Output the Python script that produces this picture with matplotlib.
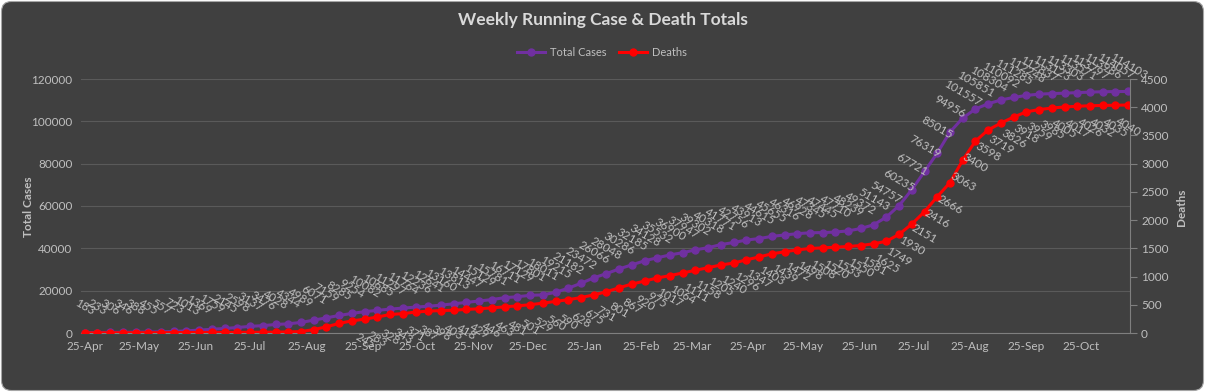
import matplotlib
matplotlib.use("Agg")
import matplotlib.pyplot as plt
import matplotlib.dates as mdates
from matplotlib.patches import FancyBboxPatch
from matplotlib.transforms import IdentityTransform
from matplotlib.ticker import FuncFormatter
import pandas as pd

# weekly snapshots, first one on 25 Apr 2020
weeks = pd.date_range("2020-04-25", periods=83, freq="7D")

cases = [183, 233, 306, 346, 388, 455, 557, 723, 1013, 1369,
         1759, 2145, 2598, 3137, 3476, 4028, 4344, 4989, 6071, 7159,
         8285, 9254, 10082, 10685, 11297, 11764, 12236, 12641, 13160, 13813,
         14447, 15129, 15781, 16711, 17129, 17801, 18011, 19215, 21182, 23472,
         26066, 28048, 30286, 32185, 34128, 35532, 36900, 37947, 39302, 40318,
         41771, 42756, 43913, 44615, 45655, 46316, 46928, 47345, 47445, 47710,
         48239, 49372, 51143, 54757, 60235, 67721, 76319, 85015, 94956, 101557,
         105851, 108304, 110092, 111285, 112248, 112837, 113123, 113303, 113571, 113797,
         113986, 114057, 114103]

deaths = [2, 3, 4, 4, 5, 5, 6, 7, 8, 9,
          10, 11, 12, 13, 14, 16, 20, 25, 60, 110,
          170, 215, 245, 283, 328, 343, 371, 387, 398, 403,
          418, 429, 446, 463, 481, 501, 529, 560, 590, 628,
          675, 731, 801, 867, 920, 975, 1017, 1064, 1111, 1158,
          1205, 1240, 1296, 1347, 1403, 1439, 1472, 1498, 1508, 1520,
          1533, 1550, 1581, 1625, 1749, 1930, 2151, 2416, 2666, 3063,
          3400, 3598, 3719, 3826, 3918, 3959, 3985, 4005, 4017, 4026,
          4032, 4035, 4040]

first_death_label = 22  # earlier death labels are not shown

plt.rcParams['font.family'] = ['Lato', 'DejaVu Sans']
txt = '#bfbfbf'

W, H = 1205, 392
fig = plt.figure(figsize=(W / 100, H / 100), dpi=100)
fig.patch.set_facecolor('white')
bg = FancyBboxPatch((1.5, 1.5), W - 3, H - 3, boxstyle='round,pad=0,rounding_size=10',
                    transform=IdentityTransform(), fc='#404040', ec='#a6a6a6', lw=0.8,
                    zorder=-10)
fig.patches.append(bg)

ax = fig.add_axes([81 / W, 59 / H, 1049 / W, 254 / H])
ax.set_facecolor('none')
ax2 = ax.twinx()

l1, = ax.plot(weeks, cases, color='#7030A0', lw=2.2, marker='o', ms=5, label='Total Cases')
l2, = ax2.plot(weeks, deaths, color='#FF0000', lw=2.2, marker='o', ms=5, label='Deaths')

for d, v in zip(weeks, cases):
    ax.annotate(str(v), (d, v), xytext=(0, 18), textcoords='offset points',
                ha='center', va='center', rotation=-30, fontsize=8.5, color=txt,
                annotation_clip=False)
for i, (d, v) in enumerate(zip(weeks, deaths)):
    if i < first_death_label:
        continue
    ax2.annotate(str(v), (d, v), xytext=(0, -16), textcoords='offset points',
                 ha='center', va='center', rotation=-30, fontsize=8.5, color=txt,
                 annotation_clip=False)

ax.set_xlim(weeks[0] - pd.Timedelta(days=2), weeks[-1] + pd.Timedelta(days=1))
ax.xaxis.set_major_locator(mdates.MonthLocator(bymonthday=25))
ax.xaxis.set_major_formatter(mdates.DateFormatter('%d-%b'))
ax.tick_params(axis='x', length=0, pad=6, labelsize=8.5, colors=txt)

ax.set_ylim(0, 120000)
ax.set_yticks(range(0, 120001, 20000))
ax.yaxis.set_major_formatter(FuncFormatter(lambda v, p: f'{int(v)}'))
ax.tick_params(axis='y', length=0, pad=6, labelsize=8.5, colors=txt)
ax.yaxis.grid(True, color='#5a5a5a', lw=0.8)
ax.set_axisbelow(True)

ax2.set_ylim(0, 4500)
ax2.set_yticks(range(0, 4501, 500))
ax2.tick_params(axis='y', length=5, width=0.8, color='#7f7f7f', pad=3, labelsize=8.5, labelcolor=txt)

for a in (ax, ax2):
    for s in a.spines.values():
        s.set_visible(False)
ax.spines['bottom'].set_visible(True)
ax.spines['bottom'].set_color('#7f7f7f')
ax2.spines['right'].set_visible(True)
ax2.spines['right'].set_color('#7f7f7f')

fig.text(0.5, 1 - 20 / H, 'Weekly Running Case & Death Totals', ha='center', va='center',
         fontsize=12.5, fontweight='bold', color='#d9d9d9')
fig.text(28 / W, 1 - 207 / H, 'Total Cases', rotation=90, ha='center', va='center',
         fontsize=8.5, fontweight='bold', color=txt)
fig.text(1182 / W, 1 - 207 / H, 'Deaths', rotation=90, ha='center', va='center',
         fontsize=8.5, fontweight='bold', color=txt)

fig.legend(handles=[l1, l2], loc='center', bbox_to_anchor=(602 / W, 1 - 52 / H), ncol=2,
           frameon=False, fontsize=8, labelcolor=txt, handlelength=2.5,
           columnspacing=1.2, handletextpad=0.4)

fig.savefig('out.png', dpi=100, facecolor=fig.get_facecolor())
